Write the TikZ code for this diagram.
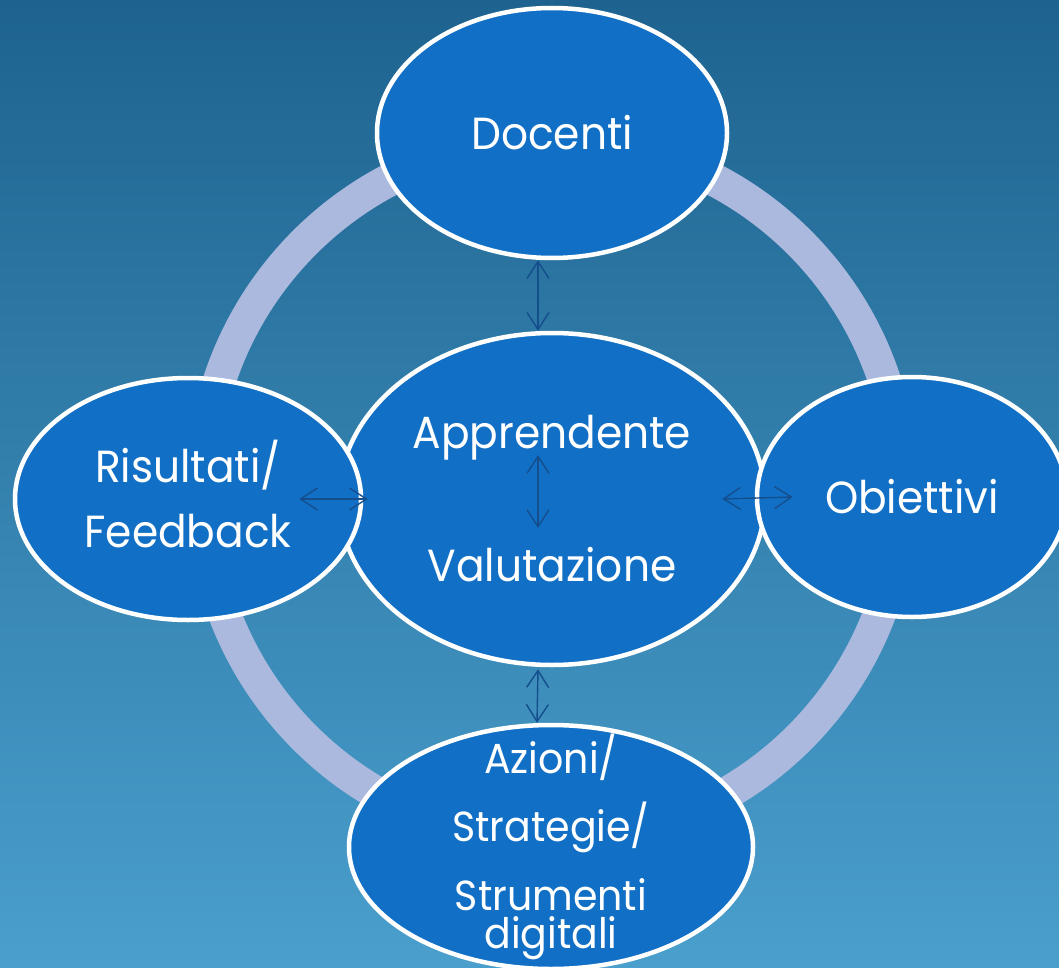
\documentclass[tikz,border=0pt]{standalone}
\usepackage{fontspec}
\setmainfont[FakeStretch=0.94]{Poppins}
\usetikzlibrary{shapes.geometric,arrows.meta}
\definecolor{bgtop}{RGB}{30,99,143}
\definecolor{bgbot}{RGB}{74,159,205}
\definecolor{bubblefill}{RGB}{17,112,198}
\definecolor{ringcol}{RGB}{170,185,221}
\definecolor{arrowcol}{RGB}{20,78,140}
\tikzset{
  bubble/.style={ellipse, draw=white, line width=4.5pt, fill=bubblefill, inner sep=0pt,
    text=white, align=center, font=\fontsize{45}{45}\selectfont},
  ringline/.style={draw=ringcol, line width=33pt},
  biarrow/.style={draw=arrowcol, line width=1.4pt, {Straight Barb[length=17pt,width=22pt]}-{Straight Barb[length=17pt,width=22pt]}},
}
\begin{document}
\begin{tikzpicture}[x=1pt,y=-1pt]
\useasboundingbox (0,0) rectangle (1059,968);
\clip (0,0) rectangle (1059,968);
\shade[top color=bgtop, bottom color=bgbot] (0,0) rectangle (1059,968);
\draw[ringline] (552,490) circle (350);
\node[bubble, minimum width=426pt, minimum height=332pt] (cen) at (552,499)
  {Apprendente\\[86pt]Valutazione};
\node[bubble, minimum width=350pt, minimum height=250pt] (doc) at (552,133) {Docenti};
\node[bubble, minimum width=346pt, minimum height=242pt] (lef) at (188,499)
  {Risultati/\\[20pt]Feedback\rule[-10pt]{0pt}{10pt}};
\node[bubble, minimum width=310pt, minimum height=240pt] (obj) at (912,497) {Obiettivi};
\node[bubble, minimum width=404pt, minimum height=244pt, inner ysep=-40pt,
  font=\fontsize{42}{38}\selectfont] (bot) at (551,847)
  {Azioni/\\[20pt]Strategie/\\[25pt]Strumenti\\digitali};
\draw[biarrow] ([xshift=-14pt]doc.south) -- ([xshift=-14pt]cen.north);
\draw[biarrow] ([xshift=-14pt,yshift=44pt]cen.center) -- ([xshift=-14pt,yshift=-29pt]cen.center);
\draw[biarrow] ([xshift=-14pt,yshift=-2pt]cen.south) -- ([xshift=-14pt]bot.north);
\draw[biarrow] ([xshift=-64pt]lef.east) -- ([xshift=31pt]cen.west);
\draw[biarrow] ([xshift=-45pt]cen.east) -- ([xshift=38pt]obj.west);
\end{tikzpicture}
\end{document}
